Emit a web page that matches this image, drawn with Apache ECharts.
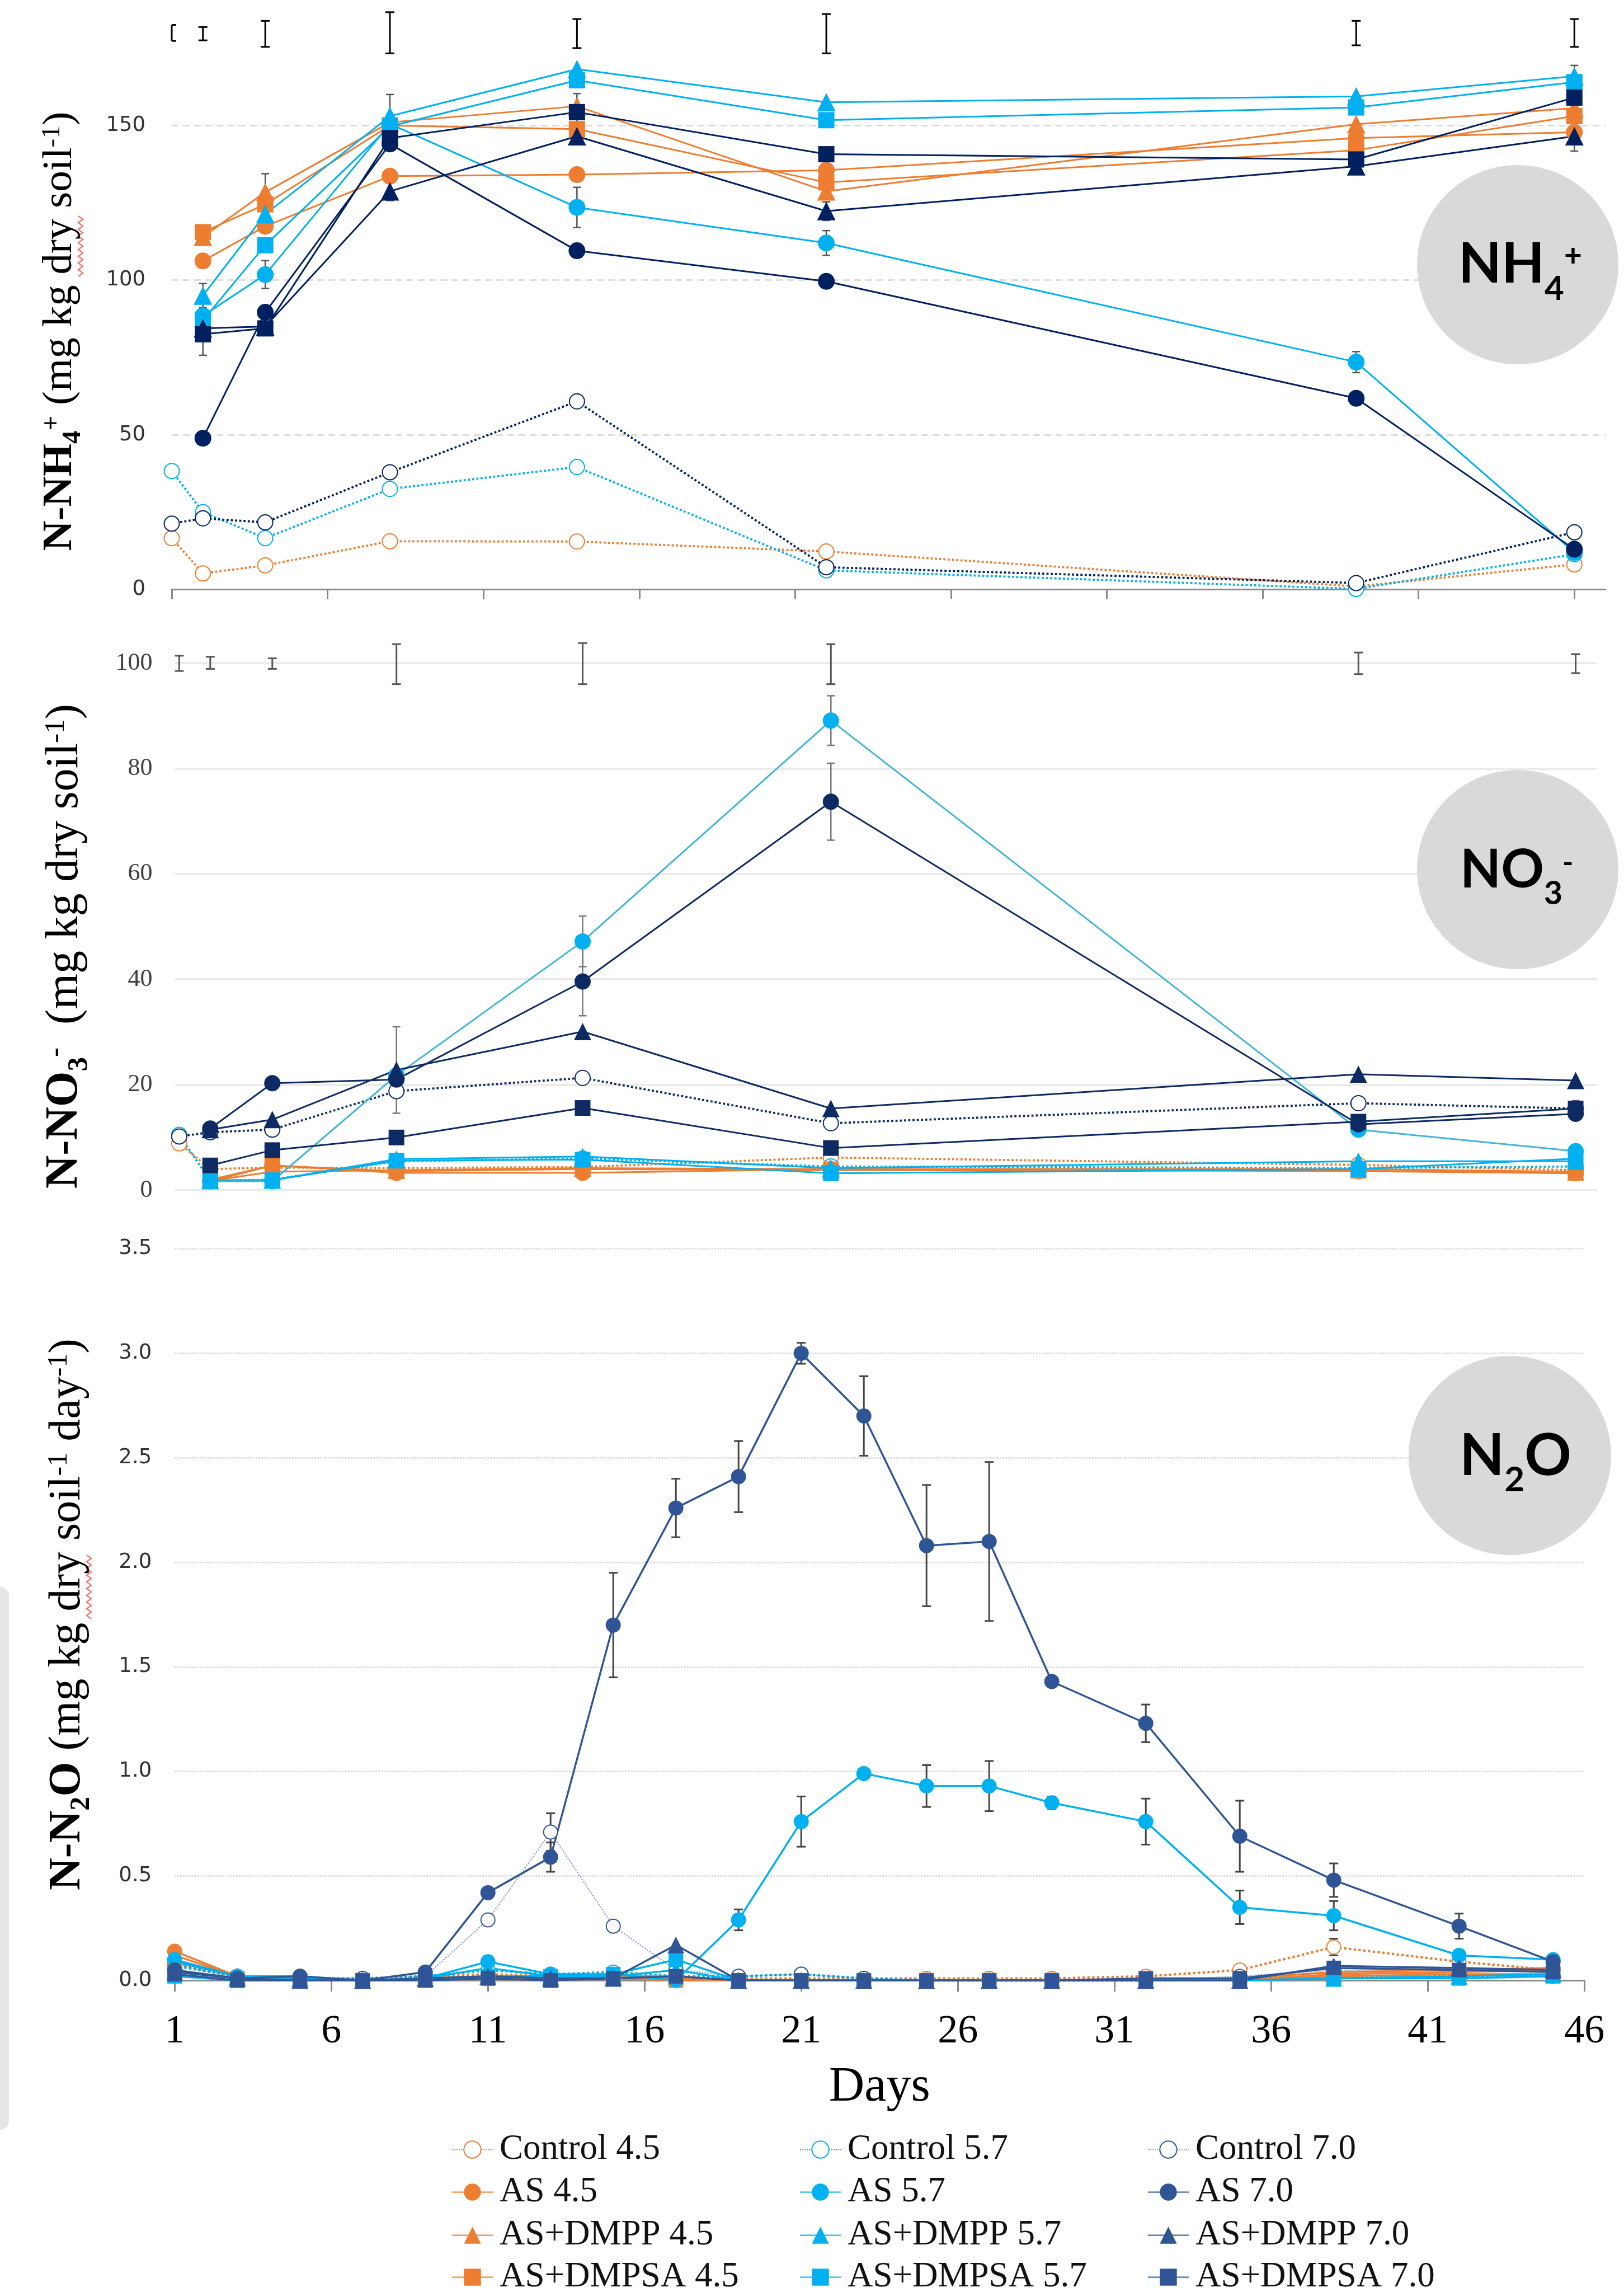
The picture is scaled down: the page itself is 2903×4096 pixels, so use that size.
<!DOCTYPE html>
<html><head><meta charset="utf-8">
<script src="https://cdn.jsdelivr.net/npm/echarts@6/dist/echarts.min.js"></script>
<style>html,body{margin:0;padding:0;background:#fff}#c{width:2903px;height:4096px}</style>
</head><body><div id="c"></div>
<script>
// ---------- DATA ----------
const legendRowControl = ['Control 4.5','Control 5.7','Control 7.0'];
const legendRowAS      = ['AS 4.5','AS 5.7','AS 7.0'];
const legendRowDMPP    = ['AS+DMPP 4.5','AS+DMPP 5.7','AS+DMPP 7.0'];
const legendRowDMPSA   = ['AS+DMPSA 4.5','AS+DMPSA 5.7','AS+DMPSA 7.0'];

const dayTicks = [1,6,11,16,21,26,31,36,41,46];

// NH4+ panel
const nh4Days = [1,2,4,8,14,22,39,46];
const nh4Control45 = [16.6,5.2,7.8,15.6,15.5,12.3,1.0,8.1];
const nh4Control57 = [38.3,25.0,16.6,32.5,39.6,6.2,0.2,11.4];
const nh4Control70 = [21.3,23.0,21.7,37.9,60.8,7.2,2.1,18.5];
const nh4AS45 = [null,106.2,117.4,133.6,134.1,135.5,145.9,147.8];
const nh4AS57 = [null,88.5,101.8,150.5,123.5,112.0,73.5,12.0];
const nh4AS70 = [null,48.9,89.6,144.0,109.5,99.6,61.8,13.0];
const nh4DMPP45 = [null,114.0,128.4,151.0,156.2,128.7,150.4,155.6];
const nh4DMPP57 = [null,95.0,121.3,153.0,168.2,157.5,159.4,165.9];
const nh4DMPP70 = [null,84.4,85.0,128.7,146.5,122.3,136.8,146.5];
const nh4DMPSA45 = [null,115.5,124.5,150.0,148.8,131.6,142.0,153.0];
const nh4DMPSA57 = [null,87.0,111.3,149.7,164.6,151.7,155.8,164.0];
const nh4DMPSA70 = [null,82.5,84.4,145.9,154.3,140.7,139.0,159.0];
const nh4LsdLow  = [177.3,177.5,175.4,173.3,175.0,173.3,175.9,175.4];
const nh4LsdHigh = [182.5,181.8,183.8,186.6,184.4,186.0,183.8,184.4];
const nh4ErrAS57   = [0,0,4.5,0,6.5,4.0,3.4,0];
const nh4ErrAS70   = [0,0,0,1.5,2.0,0,0,0];
const nh4ErrDMPP57 = [0,3.9,0,7.0,0,0,0,3.5];
const nh4ErrDMPP70 = [0,0,0,3.0,0,3.0,2.6,4.8];
const nh4ErrDMPP45 = [0,0,6.0,0,0,0,0,0];
const nh4ErrDMPSA70= [0,6.8,0,0,6.0,0,0,0];

// NO3- panel
const no3Days = [1,2,4,8,14,22,39,46];
const no3Control45 = [8.9,4.0,4.3,4.2,4.4,6.2,4.8,3.8];
const no3Control57 = [10.5,1.8,2.0,5.5,6.0,4.5,4.2,4.5];
const no3Control70 = [10.2,11.0,11.5,18.8,21.3,12.7,16.5,15.5];
const no3AS45 = [null,1.7,4.7,3.3,3.3,4.0,3.6,3.2];
const no3AS57 = [null,1.7,1.7,21.8,47.2,89.1,11.5,7.4];
const no3AS70 = [null,11.7,20.3,21.0,39.6,73.7,12.5,14.5];
const no3DMPP45 = [null,1.8,3.5,3.8,4.2,4.0,4.0,3.5];
const no3DMPP57 = [null,1.9,1.9,5.9,6.4,4.2,5.5,5.5];
const no3DMPP70 = [null,11.5,13.4,22.8,30.1,15.5,22.0,20.8];
const no3DMPSA45 = [null,2.0,4.7,3.6,4.0,3.8,3.7,3.3];
const no3DMPSA57 = [null,1.7,1.9,5.6,5.8,3.2,4.0,6.0];
const no3DMPSA70 = [null,4.7,7.6,10.0,15.6,8.0,13.0,15.5];
const no3LsdLow  = [98.5,98.9,98.9,96.0,96.0,96.0,97.9,98.1];
const no3LsdHigh = [101.4,101.2,100.9,103.6,103.8,103.6,102.0,101.7];
const no3ErrAS57   = [0,0,0,0,4.8,4.7,0,0];
const no3ErrAS70   = [0,0,0,0,6.5,7.3,0,0];
const no3ErrDMPP70 = [0,0,0,8.2,0,0,0,0];
const no3ErrDMPSA70= [0,0,0,0,0,0,0,1.5];

// N2O panel
const n2oDays = [1,3,5,7,9,11,13,15,17,19,21,23,25,27,29,32,35,38,42,45];
const n2oControl45 = [0.08,0.02,0.01,0.01,0.02,0.03,0.02,0.02,0.01,0.01,0.01,0.01,0.01,0.01,0.01,0.02,0.05,0.16,0.09,0.05];
const n2oControl57 = [0.07,0.02,0.01,0.01,0.02,0.05,0.03,0.04,0.02,0.02,0.03,0.01,0.00,0.00,0.00,0.00,0.01,0.02,0.02,0.02];
const n2oControl70 = [0.08,0.01,0.01,0.01,0.02,0.29,0.71,0.26,0.05,0.02,0.03,0.01,0.00,0.00,0.00,0.00,0.02,0.05,0.03,0.02];
const n2oAS45 = [0.14,0.02,0.01,0.00,0.01,0.02,0.01,0.01,0.01,0.00,0.00,0.00,0.00,0.00,0.00,0.00,0.01,0.04,0.05,0.06];
const n2oAS57 = [0.10,0.02,0.02,0.00,0.01,0.09,0.03,0.03,0.00,0.29,0.76,0.99,0.93,0.93,0.85,0.76,0.35,0.31,0.12,0.10];
const n2oAS70 = [0.05,0.01,0.02,0.00,0.04,0.42,0.59,1.70,2.26,2.41,3.00,2.70,2.08,2.10,1.43,1.23,0.69,0.48,0.26,0.09];
const n2oDMPP45 = [0.12,0.02,0.01,0.00,0.01,0.02,0.01,0.02,0.02,0.00,0.00,0.00,0.00,0.00,0.00,0.00,0.00,0.03,0.04,0.05];
const n2oDMPP57 = [0.09,0.02,0.01,0.00,0.01,0.06,0.02,0.02,0.05,0.00,0.00,0.00,0.00,0.00,0.00,0.00,0.00,0.01,0.02,0.03];
const n2oDMPP70 = [0.04,0.01,0.00,0.00,0.01,0.02,0.01,0.01,0.17,0.00,0.00,0.00,0.00,0.00,0.00,0.00,0.00,0.07,0.06,0.05];
const n2oDMPSA45 = [0.05,0.01,0.00,0.00,0.01,0.01,0.00,0.01,0.00,0.00,0.00,0.00,0.00,0.00,0.00,0.00,0.00,0.02,0.03,0.03];
const n2oDMPSA57 = [0.02,0.00,0.00,0.00,0.00,0.02,0.02,0.03,0.10,0.00,0.00,0.00,0.00,0.00,0.00,0.00,0.00,0.01,0.01,0.02];
const n2oDMPSA70 = [0.03,0.00,0.00,0.00,0.00,0.01,0.00,0.01,0.02,0.00,0.00,0.00,0.00,0.00,0.00,0.01,0.01,0.06,0.05,0.04];
const n2oErrAS70 = [0,0,0,0,0,0.02,0.07,0.25,0.14,0.17,0.05,0.19,0.29,0.38,0.02,0.09,0.17,0.08,0.06,0];
const n2oErrAS57 = [0,0,0,0,0,0,0,0,0,0.05,0.12,0,0.10,0.12,0.03,0.11,0.08,0.07,0.02,0];
const n2oErrControl70 = [0,0,0,0,0,0,0.09,0,0,0,0,0,0,0,0,0,0,0,0,0];
const n2oErrControl45 = [0,0,0,0,0,0,0,0,0,0,0,0,0,0,0,0,0,0.04,0,0];

// ---------- BUILD ----------
const ORANGE = '#ED7D31', LBLUE = '#00B0F0';
const panels = [
  {idx:2, days:n2oDays, dark:'#2F5597', sizes:{circle:27, rect:26, triangle:30, ctrl:25}, lw:3.5,
   sets:[['Control 4.5',n2oControl45],['Control 5.7',n2oControl57],['Control 7.0',n2oControl70],
         ['AS 4.5',n2oAS45],['AS+DMPP 4.5',n2oDMPP45],['AS+DMPSA 4.5',n2oDMPSA45],
         ['AS+DMPP 5.7',n2oDMPP57],['AS+DMPSA 5.7',n2oDMPSA57],['AS 5.7',n2oAS57],
         ['AS+DMPP 7.0',n2oDMPP70],['AS+DMPSA 7.0',n2oDMPSA70],['AS 7.0',n2oAS70]]},
  {idx:0, days:nh4Days, dark:'#002060', sizes:{circle:30, rect:29, triangle:33, ctrl:27}, lw:3,
   sets:[['Control 4.5',nh4Control45],['Control 5.7',nh4Control57],['Control 7.0',nh4Control70],
         ['AS 4.5',nh4AS45],['AS+DMPP 4.5',nh4DMPP45],['AS+DMPSA 4.5',nh4DMPSA45],
         ['AS 5.7',nh4AS57],['AS+DMPP 5.7',nh4DMPP57],['AS+DMPSA 5.7',nh4DMPSA57],
         ['AS 7.0',nh4AS70],['AS+DMPP 7.0',nh4DMPP70],['AS+DMPSA 7.0',nh4DMPSA70]]},
  {idx:1, days:no3Days, dark:'#0d2a63', sizes:{circle:29, rect:28, triangle:31, ctrl:27}, lw:3,
   sets:[['Control 4.5',no3Control45],['Control 5.7',no3Control57],['Control 7.0',no3Control70],
         ['AS 4.5',no3AS45],['AS+DMPP 4.5',no3DMPP45],['AS+DMPSA 4.5',no3DMPSA45],
         ['AS+DMPP 5.7',no3DMPP57],['AS+DMPSA 5.7',no3DMPSA57],['AS 5.7',no3AS57],
         ['AS+DMPSA 7.0',no3DMPSA70],['AS+DMPP 7.0',no3DMPP70],['AS 7.0',no3AS70]]}
];

const series = [];
panels.forEach(p => {
  p.sets.forEach(([name, vals]) => {
    const ph = name.split(' ').pop();
    const color = ph === '4.5' ? ORANGE : ph === '5.7' ? LBLUE : p.dark;
    const isCtrl = name.startsWith('Control');
    const kind = isCtrl ? 'ctrl' : name.startsWith('AS+DMPSA') ? 'rect' : name.startsWith('AS+DMPP') ? 'triangle' : 'circle';
    const symbol = kind === 'ctrl' ? 'emptyCircle' : kind;
    let lineColor = color;
    if (p.idx === 1 && name === 'AS 5.7') lineColor = '#40b5d5';
    let lineOpacity = 1, lineW = isCtrl ? p.lw + 0.8 : p.lw;
    if (p.idx === 2 && name === 'Control 7.0') { lineOpacity = 0.55; lineW = 2.5; }
    series.push({
      type:'line', name, xAxisIndex:p.idx, yAxisIndex:p.idx,
      data: p.days.map((d,i) => [d, vals[i]]).filter(v => v[1] !== null),
      symbol, symbolSize:p.sizes[kind], clip:false, animation:false,
      z: 3,
      itemStyle: isCtrl ? {color:color, borderColor:color, borderWidth:3} : {color:color},
      lineStyle: {color:lineColor, width:lineW, type: isCtrl ? 'dotted' : 'solid', opacity:lineOpacity}
    });
  });
});

function errData(days, vals, errs) {
  const out = [];
  days.forEach((d,i) => { if (errs[i] > 0 && vals[i] != null) out.push([d, vals[i]-errs[i], vals[i]+errs[i]]); });
  return out;
}
function rangeData(days, lo, hi) { return days.map((d,i) => [d, lo[i], hi[i]]); }
function errSeries(axis, data, color, half, lw, z) {
  return {
    type:'custom', xAxisIndex:axis, yAxisIndex:axis, data, z, silent:true, clip:false, animation:false,
    encode:{x:0, y:[1,2]},
    renderItem:(params, api) => {
      const a = api.coord([api.value(0), api.value(1)]);
      const b = api.coord([api.value(0), api.value(2)]);
      const cs = params.coordSys;
      const xm = a[0];
      const l = Math.max(xm - half, cs.x), r = xm + half;
      const st = {stroke:color, lineWidth:lw};
      return {type:'group', children:[
        {type:'line', shape:{x1:xm, y1:a[1], x2:xm, y2:b[1]}, style:st},
        {type:'line', shape:{x1:l, y1:a[1], x2:r, y2:a[1]}, style:st},
        {type:'line', shape:{x1:l, y1:b[1], x2:r, y2:b[1]}, style:st}
      ]};
    }
  };
}
const EC = '#555555';
series.push(errSeries(0, rangeData(nh4Days, nh4LsdLow, nh4LsdHigh), '#000', 8, 3, 5));
series.push(errSeries(1, rangeData(no3Days, no3LsdLow, no3LsdHigh), '#555', 8, 3, 5));
[[nh4AS57,nh4ErrAS57],[nh4AS70,nh4ErrAS70],[nh4DMPP57,nh4ErrDMPP57],[nh4DMPP70,nh4ErrDMPP70],[nh4DMPP45,nh4ErrDMPP45],[nh4DMPSA70,nh4ErrDMPSA70]]
  .forEach(([v,e]) => series.push(errSeries(0, errData(nh4Days, v, e), EC, 7, 2.5, 2)));
[[no3AS57,no3ErrAS57],[no3AS70,no3ErrAS70],[no3DMPP70,no3ErrDMPP70],[no3DMPSA70,no3ErrDMPSA70]]
  .forEach(([v,e]) => series.push(errSeries(1, errData(no3Days, v, e), '#777', 7, 2.5, 2)));
[[n2oAS70,n2oErrAS70],[n2oAS57,n2oErrAS57],[n2oControl70,n2oErrControl70],[n2oControl45,n2oErrControl45]]
  .forEach(([v,e]) => series.push(errSeries(2, errData(n2oDays, v, e), '#444', 8, 3, 2)));

// ---------- TEXT HELPERS ----------
function titleRich(F, subLH) {
  const base = {fontFamily:'Liberation Serif', color:'#000'};
  const fs = Math.round(F*0.62);
  return {
    b:  Object.assign({}, base, {fontWeight:'bold', fontSize:F, lineHeight:F, verticalAlign:'top'}),
    n:  Object.assign({}, base, {fontSize:F, lineHeight:F, verticalAlign:'top'}),
    sb: Object.assign({}, base, {fontWeight:'bold', fontSize:fs, lineHeight:subLH, verticalAlign:'bottom'}),
    sp: Object.assign({}, base, {fontWeight:'bold', fontSize:fs, lineHeight:fs, verticalAlign:'top'}),
    np: Object.assign({}, base, {fontSize:fs, lineHeight:fs, verticalAlign:'top'})
  };
}
function badgeRich(F, subLH) {
  const base = {fontFamily:'Lato', fontWeight:'bold', color:'#000'};
  const fs = Math.round(F*0.6), fp = Math.round(F*0.55);
  return {
    m: Object.assign({}, base, {fontSize:F, lineHeight:F, verticalAlign:'top'}),
    s: Object.assign({}, base, {fontSize:fs, lineHeight:subLH, verticalAlign:'bottom'}),
    p: Object.assign({}, base, {fontSize:fp, lineHeight:fp, verticalAlign:'top', padding:[8,0,0,0]})
  };
}
function vText(x, y, text, F, subLH) {
  return {type:'text', x, y, rotation:Math.PI/2, z:10,
    style:{text, rich:titleRich(F, subLH), align:'center', verticalAlign:'middle', textAlign:'center', textVerticalAlign:'middle'}};
}
function badge(cx, cy, rx, ry, tx, ty, text, F, subLH) {
  return [
    {type:'ellipse', shape:{cx, cy, rx, ry}, style:{fill:'#d9d9d9'}, z:8},
    {type:'text', x:tx, y:ty, z:9,
     style:{text, rich:badgeRich(F, subLH), align:'left', verticalAlign:'top', textAlign:'left', textVerticalAlign:'top'}}
  ];
}
function squiggle(x, y0, y1) {
  const pts = [];
  let k = 0;
  for (let y = y0; y <= y1; y += 6) { pts.push([x + (k % 2 ? 8 : 0), y]); k++; }
  return {type:'polyline', shape:{points:pts}, style:{stroke:'#f07a7a', lineWidth:2.5, fill:null}, z:9};
}

const graphics = [
  {type:'rect', shape:{x:-16, y:2836, width:32, height:970, r:16}, style:{fill:'#e5e5e5'}, z:1},
  vText(112, 592, '{b|N-NH}{sb|4}{sp|+}{n| (mg kg dry soil}{np|-1}{n|)}', 75, 84),
  vText(121, 1691, '{b|N-NO}{sb|3}{sp|-}{n|  (mg kg dry soil}{np|-1}{n|)}', 82, 92),
  vText(126, 2885, '{b|N-N}{sb|2}{b|O}{n| (mg kg dry soil}{np|-1}{n| day}{np|-1}{n|)}', 80, 90),
  squiggle(140, 386, 494),
  squiggle(155, 2779, 2898)
].concat(
  badge(2713, 473, 180, 178, 2607, 423, '{m|NH}{s|4}{p|+}', 100, 124),
  badge(2713, 1554, 180, 178, 2610, 1508, '{m|NO}{s|3}{p|-}', 95, 118),
  badge(2699, 2601, 181, 178, 2609, 2550, '{m|N}{s|2}{m|O}', 104, 126)
);

// one horizontal legend per row; fixed text width keeps the three columns aligned
function legendRow(centerY, data) {
  return {orient:'horizontal', left:807, top:centerY - 27, itemWidth:73, itemHeight:38, itemGap:36, data,
    padding:0, selectedMode:false,
    textStyle:{fontFamily:'Liberation Serif', fontSize:63, lineHeight:54, width:500, color:'#111', padding:[0,0,0,7]}};
}

const option = {
  animation:false,
  backgroundColor:'#ffffff',
  grid:[
    {left:307, top:3, width:2563, height:1050.5},
    {left:312.6, top:1185, width:2542.8, height:942},
    {left:312.2, top:2231.6, width:2520, height:1307.7}
  ],
  xAxis:[
    {gridIndex:0, type:'value', min:1, max:47, interval:5,
     axisLine:{show:true, onZero:false, lineStyle:{color:'#8a8a8a', width:3}},
     axisTick:{show:true, length:17, customValues:dayTicks, lineStyle:{color:'#8a8a8a', width:3}},
     axisLabel:{show:false}, splitLine:{show:false}},
    {gridIndex:1, type:'value', min:0.86, max:46.7, show:false, splitLine:{show:false}},
    {gridIndex:2, type:'value', min:1, max:46, interval:5,
     axisLine:{show:true, onZero:false, lineStyle:{color:'#8a8a8a', width:3}},
     axisTick:{show:true, length:20, lineStyle:{color:'#8a8a8a', width:3}},
     axisLabel:{margin:56, fontFamily:'Liberation Serif', fontSize:72, color:'#000'},
     splitLine:{show:false},
     name:'Days', nameLocation:'middle', nameGap:148,
     nameTextStyle:{fontFamily:'Liberation Serif', fontSize:88, color:'#000'}}
  ],
  yAxis:[
    {gridIndex:0, type:'value', min:0, max:190, interval:50,
     axisLine:{show:false}, axisTick:{show:false},
     axisLabel:{fontFamily:'DejaVu Sans', fontSize:37, color:'#333', margin:47, showMaxLabel:false},
     splitLine:{show:true, showMaxLine:false, showMinLine:false, lineStyle:{type:[12,8], color:'#d6d6d6', width:2.5}}},
    {gridIndex:1, type:'value', min:0, max:100, interval:20,
     axisLine:{show:false}, axisTick:{show:false},
     axisLabel:{fontFamily:'Liberation Serif', fontSize:44, color:'#404040', margin:40},
     splitLine:{show:true, lineStyle:{color:'#ebebeb', width:4}}},
    {gridIndex:2, type:'value', min:0, max:3.5, interval:0.5,
     axisLine:{show:false}, axisTick:{show:false},
     axisLabel:{fontFamily:'DejaVu Sans', fontSize:37, color:'#333', margin:41, formatter:v => v.toFixed(1)},
     splitLine:{show:true, showMinLine:false, lineStyle:{type:'dotted', color:'#d0d0d0', width:2.5}}}
  ],
  legend:[legendRow(3837, legendRowControl), legendRow(3913, legendRowAS), legendRow(3990, legendRowDMPP), legendRow(4065, legendRowDMPSA)],
  graphic:{elements:graphics},
  series
};

const chart = echarts.init(document.getElementById('c'), null, {renderer:'canvas', width:2903, height:4096});
chart.setOption(option);
</script>
</body></html>
